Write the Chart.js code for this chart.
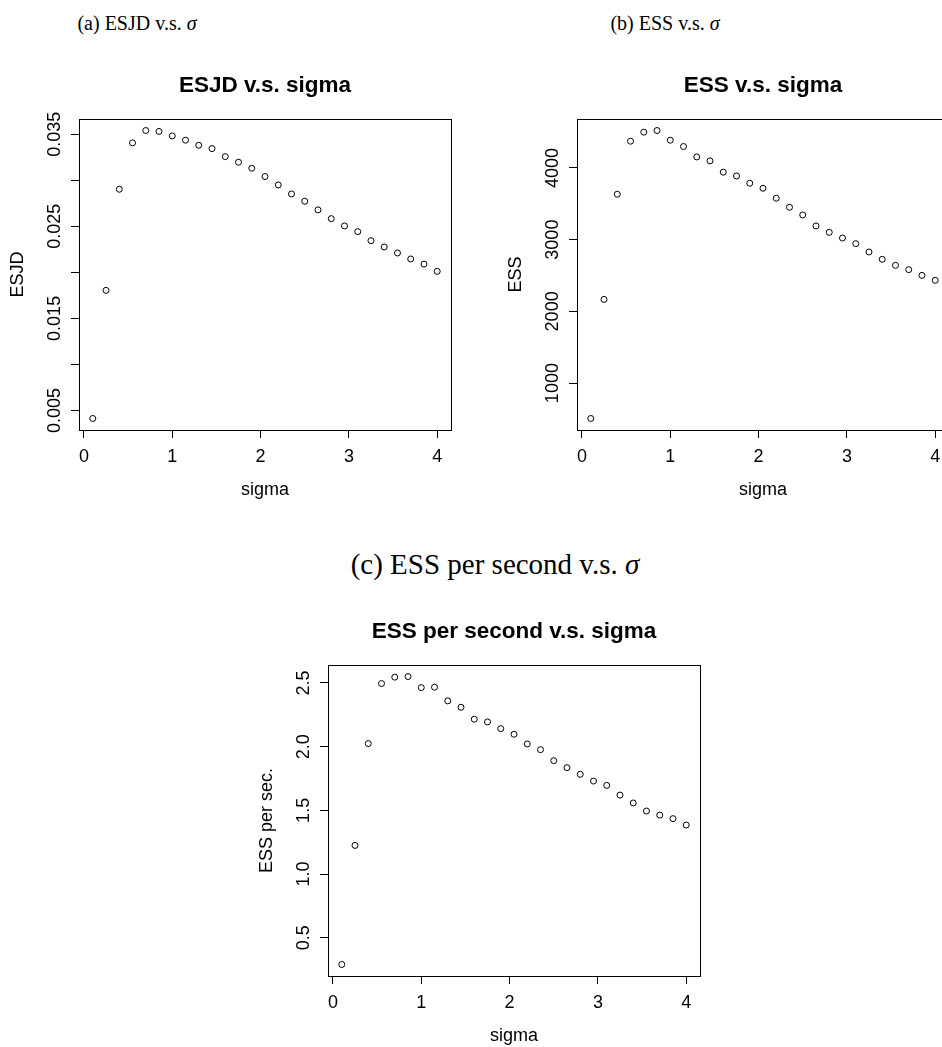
<!DOCTYPE html>
<html>
<head>
<meta charset="utf-8">
<script src="https://cdn.jsdelivr.net/npm/chart.js@4.4.1/dist/chart.umd.min.js"></script>
<style>
  body { margin: 0; width: 942px; height: 1047px; overflow: hidden; position: relative; background: #fff; }
  canvas { position: absolute; }
  .cap { position: absolute; font-family: "Liberation Serif", "DejaVu Serif", serif; font-size: 20px; line-height: 20px; white-space: nowrap; transform: translateX(-50%); color: #000; }
  .cap.big { font-size: 29px; line-height: 30px; }
</style>
</head>
<body>
<div class="cap" style="left:137px; top:13px">(a) ESJD v.s. <i>σ</i></div>
<div class="cap" style="left:665px; top:13px">(b) ESS v.s. <i>σ</i></div>
<div class="cap big" style="left:495px; top:549px">(c) ESS per second v.s. <i>σ</i></div>

<canvas id="esjdChart" width="530" height="450" style="left:0px; top:60px"></canvas>
<canvas id="essChart" width="530" height="450" style="left:498px; top:60px"></canvas>
<canvas id="essSecChart" width="530" height="450" style="left:249px; top:606px"></canvas>

<script>
// values
const sigma = [0.1, 0.25, 0.4, 0.55, 0.7, 0.85, 1.0, 1.15, 1.3, 1.45, 1.6, 1.75, 1.9, 2.05,
               2.2, 2.35, 2.5, 2.65, 2.8, 2.95, 3.1, 3.25, 3.4, 3.55, 3.7, 3.85, 4.0];
const esjd = [0.00413, 0.01804, 0.02902, 0.03406, 0.03540, 0.03530, 0.03482, 0.03435, 0.03380,
              0.03344, 0.03257, 0.03196, 0.03130, 0.03040, 0.02949, 0.02851, 0.02772, 0.02678,
              0.02583, 0.02504, 0.02442, 0.02344, 0.02275, 0.02210, 0.02145, 0.02090, 0.02011];
const ess = [507, 2167, 3633, 4372, 4498, 4521, 4386, 4298, 4153, 4098, 3940, 3888, 3786, 3716,
             3577, 3451, 3344, 3191, 3102, 3023, 2944, 2828, 2726, 2642, 2581, 2502, 2433];
const essPerSec = [0.291, 1.225, 2.024, 2.495, 2.545, 2.550, 2.463, 2.466, 2.359, 2.309, 2.215,
                   2.194, 2.141, 2.097, 2.021, 1.976, 1.890, 1.835, 1.783, 1.730, 1.696, 1.620,
                   1.558, 1.495, 1.463, 1.435, 1.385];

const sigmaTicks = [0, 1, 2, 3, 4];
const sigmaTickLabels = ['0', '1', '2', '3', '4'];
const esjdTicks = [0.005, 0.010, 0.015, 0.020, 0.025, 0.030, 0.035];
const esjdTickLabels = ['0.005', '', '0.015', '', '0.025', '', '0.035'];
const essTicks = [1000, 2000, 3000, 4000];
const essTickLabels = ['1000', '2000', '3000', '4000'];
const essSecTicks = [0.5, 1.0, 1.5, 2.0, 2.5];
const essSecTickLabels = ['0.5', '1.0', '1.5', '2.0', '2.5'];

const FONT = '"Liberation Sans", Arial, Helvetica, sans-serif';
Chart.defaults.font.family = FONT;
Chart.defaults.color = '#000';

// R pads the data range by 4% on each side
function padRange(v) {
    const lo = Math.min(...v), hi = Math.max(...v), d = (hi - lo) * 0.04;
    return [lo - d, hi + d];
}

function widestLabel(labels, size) {
    const ctx = document.createElement('canvas').getContext('2d');
    ctx.font = size + 'px ' + FONT;
    return Math.max(...labels.map(l => ctx.measureText(l).width));
}

// draws the full box round the plot region
const boxPlugin = {
    id: 'box',
    afterDraw(chart) {
        const { ctx, chartArea: a } = chart;
        ctx.save();
        ctx.strokeStyle = '#000';
        ctx.lineWidth = 1;
        ctx.strokeRect(Math.round(a.left) + 0.5, Math.round(a.top) + 0.5,
                       Math.round(a.right - a.left), Math.round(a.bottom - a.top));
        ctx.restore();
    }
};

function makePlot(id, title, yTitle, yData, yTicks, yLabels) {
    const xr = padRange(sigma);
    const yr = padRange(yData);
    const tickSize = 18;
    const yPad = 16 - widestLabel(yLabels, tickSize) / 2;

    new Chart(document.getElementById(id), {
        type: 'scatter',
        data: {
            datasets: [{
                data: sigma.map((s, i) => ({ x: s, y: yData[i] })),
                pointStyle: 'circle',
                pointRadius: 3,
                borderWidth: 1,
                borderColor: '#000',
                backgroundColor: 'rgba(0,0,0,0)'
            }]
        },
        options: {
            responsive: false,
            animation: false,
            events: [],
            layout: { padding: { left: 0, right: 79, top: 0, bottom: 0 } },
            plugins: {
                legend: { display: false },
                tooltip: { enabled: false },
                title: {
                    display: true,
                    fullSize: false,   // centre over the plot region, like R
                    text: title,
                    color: '#000',
                    font: { size: 22.5, weight: 'bold' },
                    padding: { top: 11.8, bottom: 20.2 }
                }
            },
            scales: {
                x: {
                    type: 'linear',
                    min: xr[0],
                    max: xr[1],
                    afterBuildTicks: s => { s.ticks = sigmaTicks.map(v => ({ value: v })); },
                    afterFit: s => { s.height = 80; },
                    border: { display: false },
                    grid: { drawOnChartArea: false, drawTicks: true, tickLength: 8, color: '#000' },
                    ticks: {
                        autoSkip: false,
                        maxRotation: 0,
                        padding: 8,
                        font: { size: tickSize },
                        color: '#000',
                        callback: (v, i) => sigmaTickLabels[i]
                    },
                    title: { display: true, text: 'sigma', font: { size: 18 }, color: '#000', padding: { top: 0, bottom: 9 } }
                },
                y: {
                    type: 'linear',
                    min: yr[0],
                    max: yr[1],
                    afterBuildTicks: s => { s.ticks = yTicks.map(v => ({ value: v })); },
                    afterFit: s => { s.width = 79; },
                    border: { display: false },
                    grid: { drawOnChartArea: false, drawTicks: true, tickLength: 8, color: '#000' },
                    ticks: {
                        autoSkip: false,
                        minRotation: 90,
                        maxRotation: 90,
                        crossAlign: 'center',
                        padding: yPad,
                        font: { size: tickSize },
                        color: '#000',
                        callback: (v, i) => yLabels[i]
                    },
                    title: { display: true, text: yTitle, font: { size: 18 }, color: '#000', padding: { top: 7.7, bottom: 0 } }
                }
            }
        },
        plugins: [boxPlugin]
    });
}

makePlot('esjdChart', 'ESJD v.s. sigma', 'ESJD', esjd, esjdTicks, esjdTickLabels);
makePlot('essChart', 'ESS v.s. sigma', 'ESS', ess, essTicks, essTickLabels);
makePlot('essSecChart', 'ESS per second v.s. sigma', 'ESS per sec.', essPerSec, essSecTicks, essSecTickLabels);
</script>
</body>
</html>
